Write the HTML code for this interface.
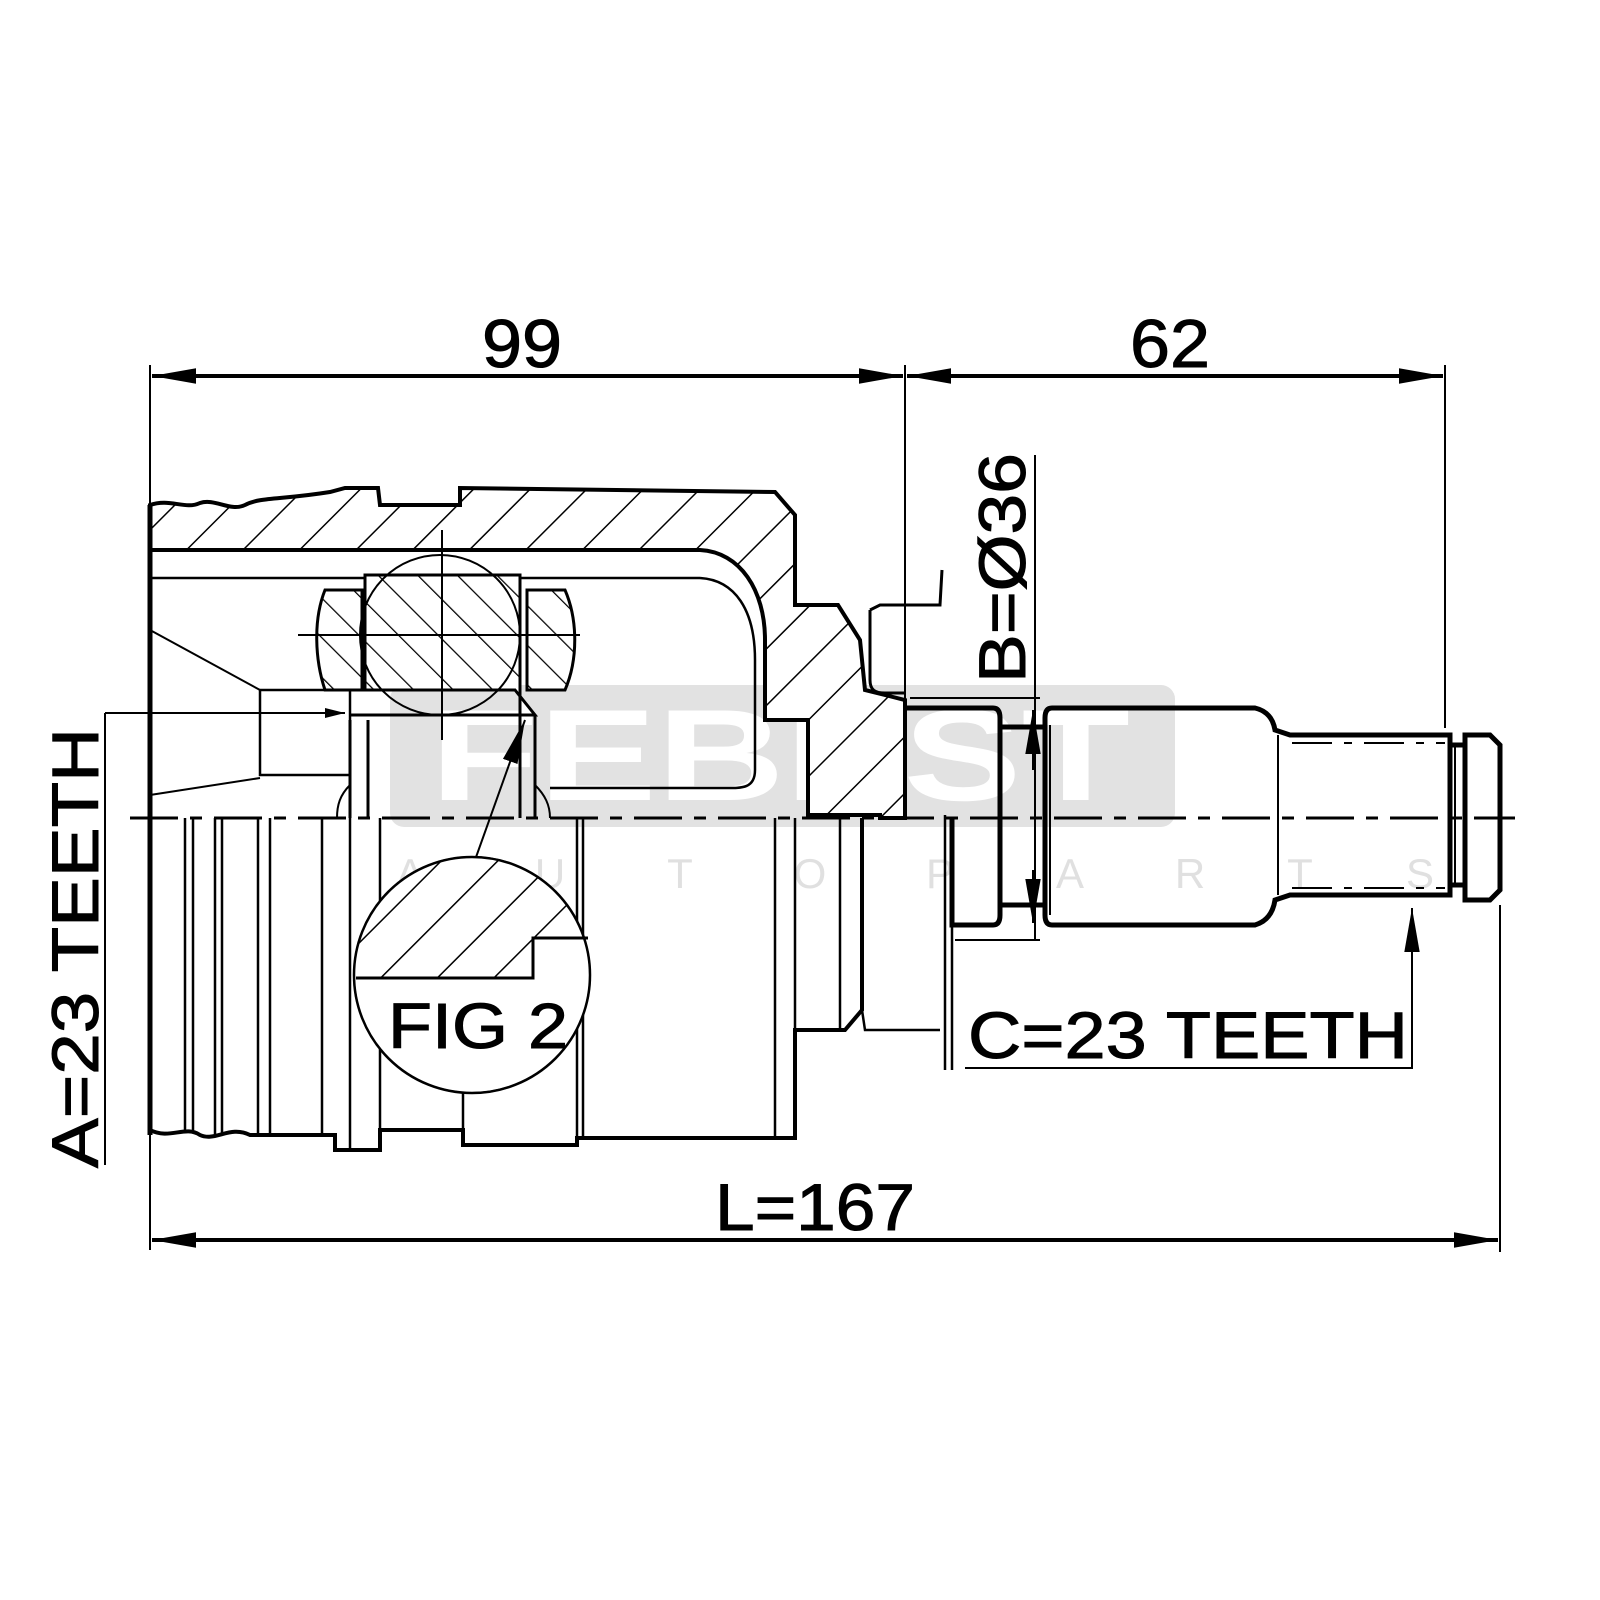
<!DOCTYPE html>
<html><head><meta charset="utf-8"><style>html,body{margin:0;padding:0;background:#fff}svg{display:block}</style></head>
<body>
<svg width="1600" height="1600" viewBox="0 0 1600 1600" xmlns="http://www.w3.org/2000/svg" font-family="Liberation Sans, sans-serif">
<defs>
<pattern id="h" patternUnits="userSpaceOnUse" width="40" height="40" patternTransform="rotate(45)">
<rect width="40" height="40" fill="#fff"/><line x1="0" y1="0" x2="0" y2="40" stroke="#000" stroke-width="3"/></pattern>
<pattern id="h2" patternUnits="userSpaceOnUse" width="28" height="28" patternTransform="rotate(-45)">
<rect width="28" height="28" fill="#fff"/><line x1="0" y1="0" x2="0" y2="28" stroke="#000" stroke-width="2.5"/></pattern>
<marker id="a" viewBox="0 0 20 10" refX="20" refY="5" markerWidth="20" markerHeight="10" markerUnits="userSpaceOnUse" orient="auto-start-reverse"><path d="M0,0L20,5L0,10z"/></marker>
<marker id="b" viewBox="0 0 40 14" refX="40" refY="7" markerWidth="44" markerHeight="16" markerUnits="userSpaceOnUse" orient="auto-start-reverse"><path d="M0,0L40,7L0,14z"/></marker>
<clipPath id="fc"><circle cx="472" cy="975" r="118"/></clipPath>
</defs>

<!-- watermark -->
<rect x="390" y="685" width="785" height="142" rx="14" fill="#e2e2e2"/>
<text x="780" y="800" font-size="130" font-weight="bold" fill="#fff" text-anchor="middle" textLength="700" lengthAdjust="spacingAndGlyphs">FEBEST</text>
<g fill="#e0e0e0" font-size="42" text-anchor="middle">
<text x="410" y="888">A</text><text x="550" y="888">U</text><text x="680" y="888">T</text><text x="810" y="888">O</text><text x="940" y="888">P</text><text x="1070" y="888">A</text><text x="1190" y="888">R</text><text x="1300" y="888">T</text><text x="1420" y="888">S</text>
</g>

<g stroke="#000" fill="none">
<line x1="150" y1="365" x2="150" y2="1250" stroke-width="2"/>
<line x1="905" y1="365" x2="905" y2="700" stroke-width="2"/>
<line x1="1445" y1="365" x2="1445" y2="728" stroke-width="2"/>
<line x1="1500" y1="905" x2="1500" y2="1252" stroke-width="2"/>
<line x1="152" y1="376" x2="903" y2="376" stroke-width="4" marker-start="url(#b)" marker-end="url(#b)"/>
<line x1="907" y1="376" x2="1443" y2="376" stroke-width="4" marker-start="url(#b)" marker-end="url(#b)"/>
<line x1="152" y1="1240" x2="1498" y2="1240" stroke-width="4" marker-start="url(#b)" marker-end="url(#b)"/>

<path d="M150,505 C170,498 185,510 200,503 C215,498 230,512 245,505 C260,497 280,500 330,492 L345,488 L378,488 L380,505 L460,505 L460,488 L775,492 L795,515 L795,605 L838,605 L860,640 L865,690 L905,700 L905,818 L880,818 L880,815 L808,815 L808,720 L765,720 L765,640 C765,590 740,552 700,550 L150,550 Z" fill="url(#h)" stroke-width="4"/>
<line x1="150" y1="578" x2="700" y2="578" stroke-width="2.5"/>
<path d="M700,578 C735,580 755,610 755,660 L755,770 C755,790 740,788 720,788 L550,788" stroke-width="2.5"/>
<line x1="150" y1="630" x2="260" y2="690" stroke-width="2"/>
<line x1="260" y1="690" x2="350" y2="690" stroke-width="2"/>
<rect x="260" y="690" width="90" height="85" stroke-width="2.5"/>
<line x1="150" y1="795" x2="260" y2="778" stroke-width="2"/>
<line x1="150" y1="505" x2="150" y2="1135" stroke-width="5"/>

<path d="M365,575 L520,575 L520,715 L535,715 L515,690 L365,690 Z" fill="url(#h2)" stroke-width="3"/>
<path d="M325,590 L362,590 L362,690 L325,690 C315,660 313,620 325,590Z" fill="url(#h2)" stroke-width="3"/>
<path d="M527,590 L565,590 C578,620 578,660 565,690 L527,690 Z" fill="url(#h2)" stroke-width="3"/>
<circle cx="440" cy="635" r="80" stroke-width="2"/>
<line x1="298" y1="635" x2="580" y2="635" stroke-width="2"/>
<line x1="442" y1="530" x2="442" y2="740" stroke-width="2"/>
<line x1="350" y1="715" x2="535" y2="715" stroke-width="3"/>
<line x1="350" y1="720" x2="350" y2="818" stroke-width="3"/>
<line x1="368" y1="720" x2="368" y2="818" stroke-width="3"/>
<line x1="520" y1="715" x2="520" y2="818" stroke-width="3"/>
<line x1="535" y1="715" x2="535" y2="818" stroke-width="3"/>
<path d="M350,785 C340,795 337,805 337,818" stroke-width="2"/>
<path d="M535,785 C545,795 550,805 550,818" stroke-width="2"/>
<line x1="105" y1="713" x2="345" y2="713" stroke-width="2" marker-end="url(#a)"/>
<line x1="105" y1="713" x2="105" y2="1165" stroke-width="2"/>
<line x1="475" y1="860" x2="525" y2="720" stroke-width="2" marker-end="url(#b)"/>

<line x1="130" y1="818" x2="1515" y2="818" stroke-width="3" stroke-dasharray="48,12,12,12"/>

<path d="M150,1130 C170,1140 185,1125 200,1135 C215,1142 230,1125 250,1135 L335,1135 L335,1150 L380,1150 L380,1130 L463,1130 L463,1145 L577,1145 L577,1138 L795,1138 L795,1030 L845,1030 L862,1010 L862,818" stroke-width="4"/>
<g stroke-width="2.5">
<line x1="185" y1="818" x2="185" y2="1132"/><line x1="193" y1="818" x2="193" y2="1132"/>
<line x1="215" y1="818" x2="215" y2="1135"/><line x1="222" y1="818" x2="222" y2="1135"/>
<line x1="258" y1="818" x2="258" y2="1135"/><line x1="270" y1="818" x2="270" y2="1135"/>
<line x1="322" y1="818" x2="322" y2="1135"/>
<line x1="350" y1="818" x2="350" y2="1150"/>
<line x1="380" y1="818" x2="380" y2="1130"/>
<line x1="463" y1="1090" x2="463" y2="1130"/>
<line x1="577" y1="818" x2="577" y2="1138"/><line x1="583" y1="818" x2="583" y2="1138"/>
<line x1="775" y1="818" x2="775" y2="1138"/><line x1="795" y1="818" x2="795" y2="1030"/>
<line x1="840" y1="818" x2="840" y2="1030"/>
</g>
<path d="M862,1010 L865,1030 L940,1030" stroke-width="2.5"/>

<path d="M870,610 L870,680 C870,690 875,693 885,693 L905,693" stroke-width="3"/>
<path d="M870,610 L880,605 L940,605 L942,570" stroke-width="3"/>
<line x1="945" y1="815" x2="945" y2="1070" stroke-width="2.5"/>
<line x1="952" y1="820" x2="952" y2="1070" stroke-width="2.5"/>

<g stroke-width="5">
<path d="M905,708 L993,708 Q1000,708 1000,718 L1000,915 Q1000,925 993,925 L952,925 L952,818"/>
<path d="M1000,727 L1045,727 M1000,905 L1045,905"/>
<path d="M1052,708 L1255,708 Q1272,712 1275,730 L1290,735 L1450,735 L1450,895 L1290,895 L1275,900 Q1272,920 1255,925 L1052,925 Q1045,925 1045,915 L1045,718 Q1045,708 1052,708Z"/>
<path d="M1450,745 L1465,745 M1450,885 L1465,885"/>
<path d="M1465,735 L1490,735 L1500,745 L1500,890 L1490,900 L1465,900 Z"/>
</g>
<line x1="1050" y1="725" x2="1050" y2="915" stroke-width="2"/>
<line x1="1278" y1="735" x2="1278" y2="895" stroke-width="2"/>
<line x1="1455" y1="745" x2="1455" y2="885" stroke-width="2"/>
<line x1="1292" y1="743" x2="1445" y2="743" stroke-width="2" stroke-dasharray="40,12,8,12"/>
<line x1="1292" y1="888" x2="1445" y2="888" stroke-width="2" stroke-dasharray="40,12,8,12"/>
<line x1="1035" y1="455" x2="1035" y2="940" stroke-width="2"/>
<line x1="910" y1="698" x2="1040" y2="698" stroke-width="2"/>
<line x1="955" y1="940" x2="1040" y2="940" stroke-width="2"/>
<line x1="1033" y1="770" x2="1033" y2="710" stroke-width="2" marker-end="url(#b)"/>
<line x1="1033" y1="870" x2="1033" y2="923" stroke-width="2" marker-end="url(#b)"/>
<path d="M965,1068 L1412,1068 L1412,908" stroke-width="2" marker-end="url(#b)"/>

<circle cx="472" cy="975" r="118" fill="#fff" stroke-width="2"/>
<path clip-path="url(#fc)" d="M350,978 L533,978 L533,938 L600,938 L600,850 L350,850 Z" fill="url(#h)" stroke="none"/>
<circle cx="472" cy="975" r="118" stroke-width="2.5"/>
<path d="M356,978 L533,978 L533,938 L588,938" stroke-width="3"/>
</g>

<g fill="#000" stroke="#000" stroke-width="1">
<text x="522" y="367" font-size="68" text-anchor="middle" textLength="80" lengthAdjust="spacingAndGlyphs">99</text>
<text x="1170" y="367" font-size="68" text-anchor="middle" textLength="80" lengthAdjust="spacingAndGlyphs">62</text>
<text x="815" y="1230" font-size="66" text-anchor="middle" textLength="200" lengthAdjust="spacingAndGlyphs">L=167</text>
<text x="968" y="1058" font-size="66" textLength="440" lengthAdjust="spacingAndGlyphs">C=23 TEETH</text>
<text x="478" y="1048" font-size="64" text-anchor="middle" textLength="180" lengthAdjust="spacingAndGlyphs">FIG 2</text>
<text transform="translate(98,1168) rotate(-90)" font-size="66" textLength="440" lengthAdjust="spacingAndGlyphs">A=23 TEETH</text>
<text transform="translate(1025,683) rotate(-90)" font-size="66" textLength="230" lengthAdjust="spacingAndGlyphs">B=Ø36</text>
</g>
</svg>
</body></html>
